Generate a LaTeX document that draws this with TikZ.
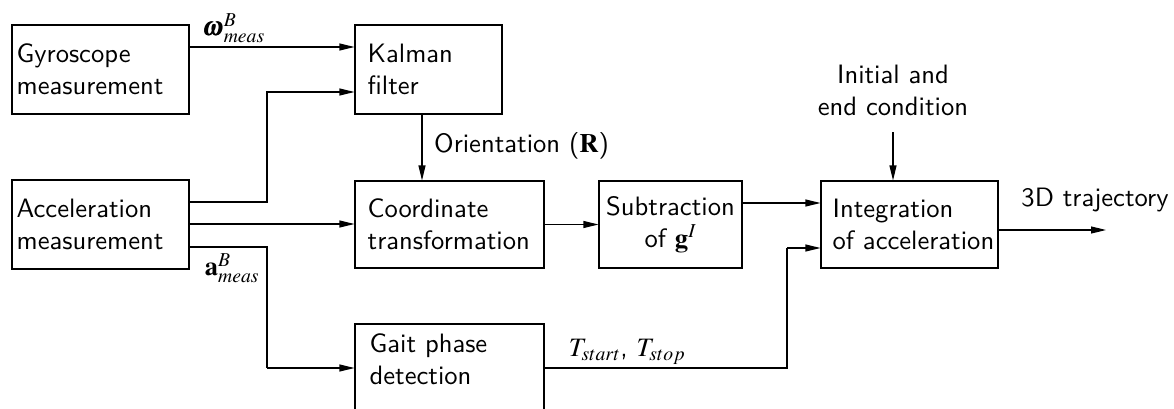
\documentclass[tikz,border=0pt]{standalone}
\usepackage{amsmath}
\usepackage{mathptmx}
\usepackage{fontspec}
\setsansfont{lmsans10-regular.otf}[BoldFont=lmsans10-bold.otf]
\renewcommand{\familydefault}{\sfdefault}
\usetikzlibrary{arrows.meta,calc}
\begin{document}
\begin{tikzpicture}[x=1pt,y=-1pt,
  every node/.style={font=\fontsize{26.6}{32}\selectfont\sffamily},
  box/.style={draw,line width=1.1pt,rectangle,inner sep=0pt},
  txt/.style={anchor=west,align=left,inner sep=0pt},
  conn/.style={line width=1.1pt,-{Triangle[length=15pt,width=7pt]}},
  plain/.style={line width=1.1pt}]
\useasboundingbox (0,0) rectangle (1174,409);

% blocks
\node[box,minimum width=177pt,minimum height=89pt] (gyro) at (100.5,69.5) {};
\node[box,minimum width=147pt,minimum height=89pt] (kal) at (428.5,69.5) {};
\node[box,minimum width=177pt,minimum height=89pt] (acc) at (100.5,224.5) {};
\node[box,minimum width=189pt,minimum height=87pt] (coord) at (449.5,224.5) {};
\node[box,minimum width=143pt,minimum height=87pt] (sub) at (670.5,224.5) {};
\node[box,minimum width=177pt,minimum height=87pt] (integ) at (909.5,224.5) {};
\node[box,minimum width=189pt,minimum height=110pt] (gait) at (449.5,379) {};

% block texts
\node[txt] at ($(gyro.west)+(5,0)$) {Gyroscope\\measurement};
\node[txt] at ($(kal.west)+(13,0)$) {Kalman\\filter};
\node[txt] at ($(acc.west)+(5,0)$) {Acceleration\\measurement};
\node[txt] at ($(coord.west)+(13,0)$) {Coordinate\\transformation};
\node[align=center,inner sep=0pt] at (sub.center) {Subtraction\\of $\mathbf{g}^{I}$};
\node[txt] at ($(integ.west)+(12,0)$) {Integration\\of acceleration};
\node[txt,anchor=north west] at ($(gait.north west)+(15,10)$) {Gait phase\\detection};

% free ends
\coordinate (ini) at (893,132);
\coordinate (out) at (1106,230);
\coordinate (j1) at (267,92);
\coordinate (j2) at (267,368);
\coordinate (j3) at (787,248);

% connectors
\draw[conn] (gyro.east |- 0,47) -- (kal.west |- 0,47);
\draw[conn] (acc.east |- 0,202) -- (j1 |- 0,202) -- (j1) -- (kal.west |- j1);
\draw[conn] (acc.east |- 0,224) -- (coord.west |- 0,224);
\draw[plain] (acc.east |- 0,247) -- (j2 |- 0,247) -- (j2);
\draw[conn] (j2) -- (gait.west |- j2);
\draw[conn] (kal.south -| 422,0) -- (coord.north -| 422,0);
\draw[conn] (coord.east) -- (sub.west);
\draw[conn] (sub.east |- 0,203) -- (integ.west |- 0,203);
\draw[plain] (gait.east |- j2) -- (j2 -| j3) -- (j3);
\draw[conn] (j3) -- (integ.west |- j3);
\draw[conn] (ini) -- (integ.north -| ini);
\draw[conn] (integ.east |- out) -- (out);

% labels
\node (lw) at (234,28) {$\pmb{\omega}^{B}_{meas}$};
\node (la) at (232,268) {$\mathbf{a}^{B}_{meas}$};
\node[anchor=west,inner sep=0pt] (lo) at (434,146) {Orientation ($\mathbf{R}$)};
\node (lt) at (627,352) {$T_{start}$, $T_{stop}$};
\node (l3) at (1095,200) {3D trajectory};
\node[align=center] (lc) at (893,90) {Initial and\\end condition};
\end{tikzpicture}
\end{document}
